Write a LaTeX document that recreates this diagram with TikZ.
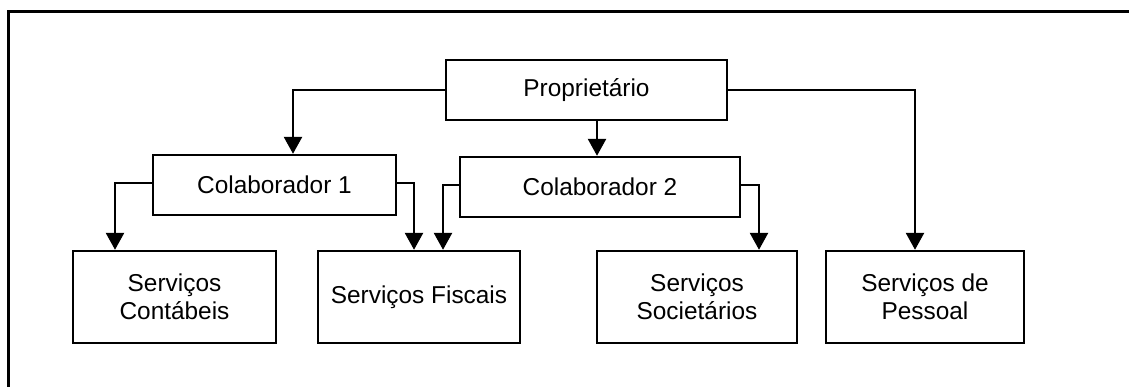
\documentclass[tikz,border=0pt]{standalone}
\usepackage{fontspec}
\setmainfont{Liberation Sans}
\usetikzlibrary{arrows.meta}
\tikzset{
  unit/.style={draw, line width=1.2pt, minimum height=30pt, align=center,
    inner sep=0pt, font=\fontsize{12.2}{14}\selectfont},
  service/.style={unit, minimum height=46pt},
  link/.style={line width=1.3pt, -{Triangle[length=8.5pt,width=9pt]}}
}
\begin{document}
\begin{tikzpicture}[x=0.5pt,y=-0.5pt]
      \useasboundingbox (0,0) rectangle (1129,386);
      \draw[line width=1.5pt] (8,400) -- (8,11) -- (1140,11);
      \draw
        (586.5,90) node[unit, minimum width=140.5pt] (prop){Propriet\'ario}
        (274.5,185) node[unit, minimum width=121.5pt] (colab1){Colaborador 1}
        (600,187) node[unit, minimum width=140pt] (colab2){Colaborador 2}
        (174.5,297) node[service, minimum width=101.5pt] (cont){Servi\c{c}os\\Cont\'abeis}
        (419,297) node[service, minimum width=101pt] (fisc){Servi\c{c}os Fiscais}
        (697,297) node[service, minimum width=100pt] (soc){Servi\c{c}os\\Societ\'arios}
        (925,297) node[service, minimum width=99pt] (pess){Servi\c{c}os de\\Pessoal};
      \begin{scope}[link]
        \draw (prop.west) -| ([xshift=9.25pt]colab1.north);
        \draw ([xshift=5.25pt]prop.south) -- ([xshift=5.25pt]prop.south |- colab2.north);
        \draw (prop.east) -| ([xshift=-5pt]pess.north);
        \draw ([yshift=1pt]colab1.west) -| ([xshift=-29.75pt]cont.north);
        \draw ([yshift=1pt]colab1.east) -| ([xshift=-2.5pt]fisc.north);
        \draw ([yshift=1pt]colab2.west) -| ([xshift=12pt]fisc.north);
        \draw ([yshift=1pt]colab2.east) -| ([xshift=31pt]soc.north);
      \end{scope}
    \end{tikzpicture}
\end{document}
